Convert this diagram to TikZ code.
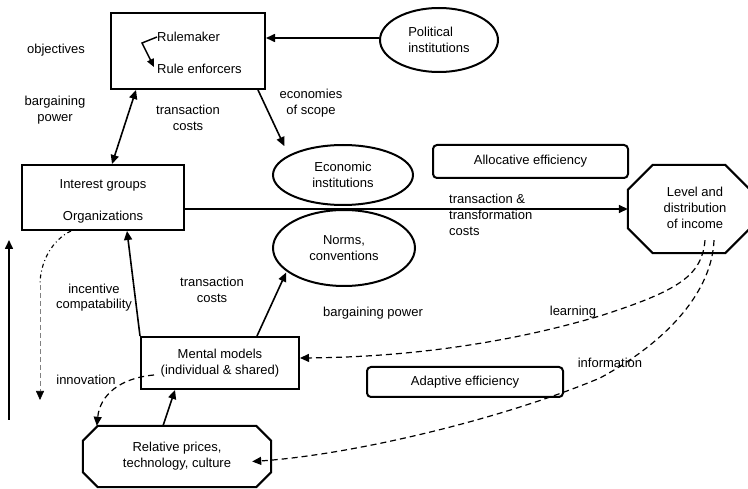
\documentclass[tikz,border=0pt]{standalone}
\usepackage{fontspec}
\setmainfont{Liberation Sans}
\usetikzlibrary{arrows.meta,calc,shapes.geometric}
\begin{document}
\begin{tikzpicture}[x=1pt,y=-1pt,
  every node/.style={font=\fontsize{13}{16}\selectfont, inner sep=0pt, align=center},
  boxnode/.style={draw, line width=2pt},
  ell/.style={draw, ellipse, line width=2pt},
  rbox/.style={draw, rounded corners=4pt, line width=2pt},
  octo/.style={line width=2pt},
  arr/.style={line width=1.6pt, -{Triangle[length=9pt,width=8pt]}},
  darr/.style={line width=1.2pt, dash pattern=on 6pt off 4pt, -{Triangle[length=9pt,width=8pt]}},
  dline/.style={line width=1.1pt, dash pattern=on 4pt off 3pt on 1pt off 3pt},
  gline/.style={line width=0.6pt, gray, dash pattern=on 5pt off 3pt, -{Triangle[length=9pt,width=8pt,color=black]}}
]
\useasboundingbox (0,0) rectangle (748,489);

% Rule box
\node[boxnode, minimum width=154, minimum height=76] (rule) at (188,51) {};
\node[anchor=west] (rm) at (157,37) {Rulemaker};
\node[anchor=west] (re) at (157,69) {Rule enforcers};
\draw[line width=1.4pt, -{Triangle[length=8pt,width=7pt]}] (rm.west) -- ++(-15,6) -- ([xshift=-3pt,yshift=-3pt]re.north west);

% Political institutions
\node[ell, minimum width=118, minimum height=64, align=left] (pol) at (439,40) {Political\\institutions};
\draw[arr] ([yshift=2pt]pol.west) -- ([yshift=2pt]pol.west -| rule.east);

% Interest groups
\node[boxnode, minimum width=162, minimum height=65] (ig) at (103,197.5) {};
\node (igt) at (103,185) {Interest groups};
\node (igo) at (103,217) {Organizations};

\draw[line width=1.6pt, {Triangle[length=9pt,width=8pt]}-{Triangle[length=9pt,width=8pt]}] ([xshift=26pt]rule.south west) -- ([xshift=9pt]ig.north);

% Economic institutions
\node[ell, minimum width=140, minimum height=60] (econ) at (343,175) {Economic\\institutions};
\draw[arr] ([xshift=-8pt]rule.south east) -- ([shift={(-8.5,-7)}]econ.north west);

% Norms
\node[ell, minimum width=142, minimum height=76] (norms) at (344,248) {Norms,\\conventions};

% Allocative efficiency
\node[rbox, minimum width=195, minimum height=33] (alloc) at (530.5,161.5) {Allocative efficiency};

% Level and distribution of income (octagon)
\node[minimum width=122, minimum height=88] (lvl) at (689,209) {};
\draw[octo] ([xshift=25pt]lvl.north west) -- ([xshift=-25pt]lvl.north east) -- ([yshift=-25pt]lvl.north east)
  -- ([yshift=25pt]lvl.south east) -- ([xshift=-25pt]lvl.south east) -- ([xshift=25pt]lvl.south west)
  -- ([yshift=25pt]lvl.south west) -- ([yshift=-25pt]lvl.north west) -- cycle;
\node (lvlt) at (695,208) {Level and\\distribution\\of income};

\draw[arr] (ig.east |- lvl.west) -- (lvl.west);
\node[align=left, anchor=west] (ttc) at (449,215) {transaction \&\\transformation\\costs};

% Mental models
\node[boxnode, minimum width=158, minimum height=52] (mm) at (220,363) {Mental models\\(individual \& shared)};
\draw[arr] (mm.north west) -- ([xshift=24pt]ig.south);
\draw[arr] ([xshift=37pt]mm.north) -- ([shift={(-7,-3)}]norms.south west);

% Adaptive efficiency
\node[rbox, minimum width=196, minimum height=30] (adapt) at (465,382) {Adaptive efficiency};

% Relative prices octagon
\node[minimum width=188, minimum height=61] (rel) at (177,456.5) {Relative prices,\\technology, culture};
\draw[octo] ([xshift=15pt]rel.north west) -- ([xshift=-15pt]rel.north east) -- ([yshift=-15pt]rel.north east)
  -- ([yshift=15pt]rel.south east) -- ([xshift=-15pt]rel.south east) -- ([xshift=15pt]rel.south west)
  -- ([yshift=15pt]rel.south west) -- ([yshift=-15pt]rel.north west) -- cycle;
\draw[arr] ([xshift=-14pt]rel.north) -- ([xshift=-45pt]mm.south);

% Labels
\node (lobj) at (56,50) {objectives};
\node (lbp) at (55,110) {bargaining\\power};
\node (ltc1) at (188,118) {transaction\\costs};
\node (leos) at (311,103) {economies\\of scope};
\node[font=\fontsize{13}{15}\selectfont] (lic) at (94,298) {incentive\\compatability};
\node (ltc2) at (212,290) {transaction\\costs};
\node[anchor=west] (lbp2) at (323,313) {bargaining power};
\node (llearn) at (573,312) {learning};
\node (linfo) at (610,363) {information};
\node (linno) at (86,380) {innovation};

% Vertical solid arrow
\coordinate (vb) at (9,420);
\coordinate (vt) at (9,240);
\draw[arr] (vb) -- (vt);

% Dashed from interest groups
\coordinate (bend) at (40,285);
\coordinate (innoEnd) at (40,400);
\draw[dline] ([xshift=-32pt]ig.south) .. controls (52,240) and (40,262) .. (bend);
\draw[gline] (bend) -- (innoEnd);

% Innovation dashed
\draw[darr] ([shift={(14,12)}]mm.west) .. controls (120,378) and (100,395) .. ([xshift=14pt]rel.north west);

% Learning dashed
\draw[darr] ([shift={(16,-13)}]lvl.south) .. controls (702,275) and (680,290) .. (603,315)
  .. controls (520,340) and (420,357) .. ([yshift=5pt]mm.east);

% Information dashed
\draw[darr] ([shift={(25,-13)}]lvl.south) .. controls (712,290) and (670,340) .. (600,378)
  .. controls (500,420) and (350,455) .. ([shift={(-19,5)}]rel.east);
\end{tikzpicture}
\end{document}
